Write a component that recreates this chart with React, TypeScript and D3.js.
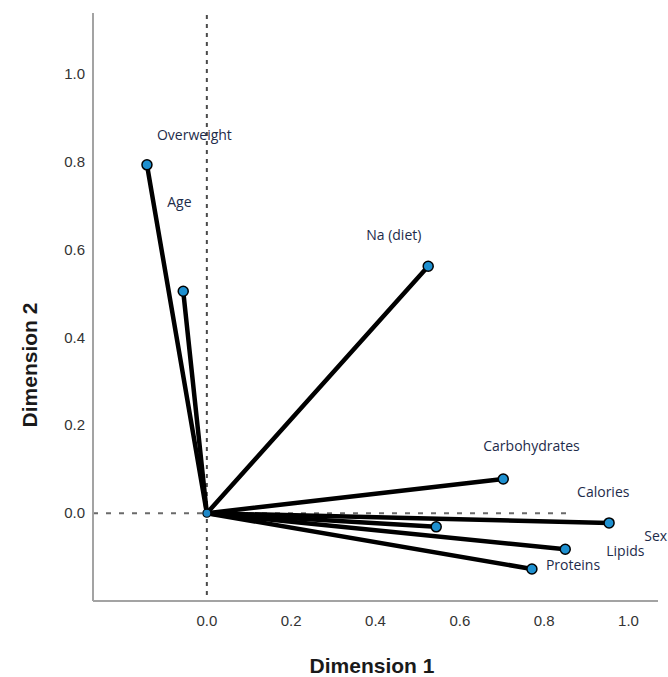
import React from "react";
import * as d3 from "d3";

const variables = ["Overweight", "Age", "Na (diet)", "Carbohydrates", "Calories", "Sex", "Lipids", "Proteins"];
const dim1 = [-0.142, -0.056, 0.525, 0.703, 0.954, 0.544, 0.85, 0.771];
const dim2 = [0.794, 0.506, 0.563, 0.078, -0.022, -0.031, -0.082, -0.127];
const xTicks = [0, 0.2, 0.4, 0.6, 0.8, 1.0];
const yTicks = [0, 0.2, 0.4, 0.6, 0.8, 1.0];

// label placement offsets (pixels from each point)
const labelOffsets: [number, number][] = [
  [10, -25], [-16, -84], [-62, -26], [-20, -28], [-32, -26], [208, 14], [41, 7], [14, 1],
];

const W = 668;
const H = 677;

export default function App() {
  const x = d3.scaleLinear().domain([-0.27, 1.07]).range([93, 658]);
  const y = d3.scaleLinear().domain([-0.2, 1.14]).range([601, 13]);
  const fmt = d3.format(".1f");
  const x0 = x(0);
  const y0 = y(0);
  const labelFont = "'Open Sans', sans-serif";
  const axisFont = "'Liberation Sans', Arial, sans-serif";

  return (
    <svg width={W} height={H} style={{ position: "absolute", left: 0, top: 0, background: "#fff" }}>
      <rect x={0} y={0} width={W} height={H} fill="#fff" />
      {/* reference dashed lines */}
      <line x1={x0} x2={x0} y1={y.range()[1] + 2} y2={y.range()[0]} stroke="#4a4a4a" strokeWidth={2} strokeDasharray="4,5" />
      <line x1={x.range()[0]} x2={x(0.87)} y1={y0} y2={y0} stroke="#6a6a6a" strokeWidth={2} strokeDasharray="5,8" />
      {/* axes */}
      <line x1={x.range()[0]} x2={x.range()[0]} y1={y.range()[1]} y2={y.range()[0]} stroke="#a3a3a3" strokeWidth={2} />
      <line x1={x.range()[0]} x2={x.range()[1]} y1={y.range()[0]} y2={y.range()[0]} stroke="#a3a3a3" strokeWidth={2} />
      {xTicks.map((t) => (
        <text key={"xt" + t} x={x(t)} y={626} textAnchor="middle" fontFamily={axisFont} fontSize={15} fill="#333">
          {fmt(t)}
        </text>
      ))}
      {yTicks.map((t) => (
        <text key={"yt" + t} x={85} y={y(t) + 5} textAnchor="end" fontFamily={axisFont} fontSize={15} fill="#333">
          {fmt(t)}
        </text>
      ))}
      <text x={372} y={673} textAnchor="middle" fontFamily={axisFont} fontSize={21} fontWeight="bold" fill="#1a1a1a">
        Dimension 1
      </text>
      <text
        transform={`translate(37,365) rotate(-90)`}
        textAnchor="middle"
        fontFamily={axisFont}
        fontSize={21}
        fontWeight="bold"
        fill="#1a1a1a"
      >
        Dimension 2
      </text>
      {/* vectors */}
      {variables.map((v, i) => (
        <line key={"l" + v} x1={x0} y1={y0} x2={x(dim1[i])} y2={y(dim2[i])} stroke="#000" strokeWidth={4.5} strokeLinecap="round" />
      ))}
      <circle cx={x0} cy={y0} r={4} fill="#1e88c8" stroke="#000" strokeWidth={1.2} />
      {variables.map((v, i) => (
        <circle key={"c" + v} cx={x(dim1[i])} cy={y(dim2[i])} r={5} fill="#1e90d0" stroke="#000" strokeWidth={1.5} />
      ))}
      {variables.map((v, i) => (
        <text
          key={"t" + v}
          x={x(dim1[i]) + labelOffsets[i][0]}
          y={y(dim2[i]) + labelOffsets[i][1]}
          fontFamily={labelFont}
          fontSize={14}
          fill="#1d2b4a"
        >
          {v}
        </text>
      ))}
    </svg>
  );
}
